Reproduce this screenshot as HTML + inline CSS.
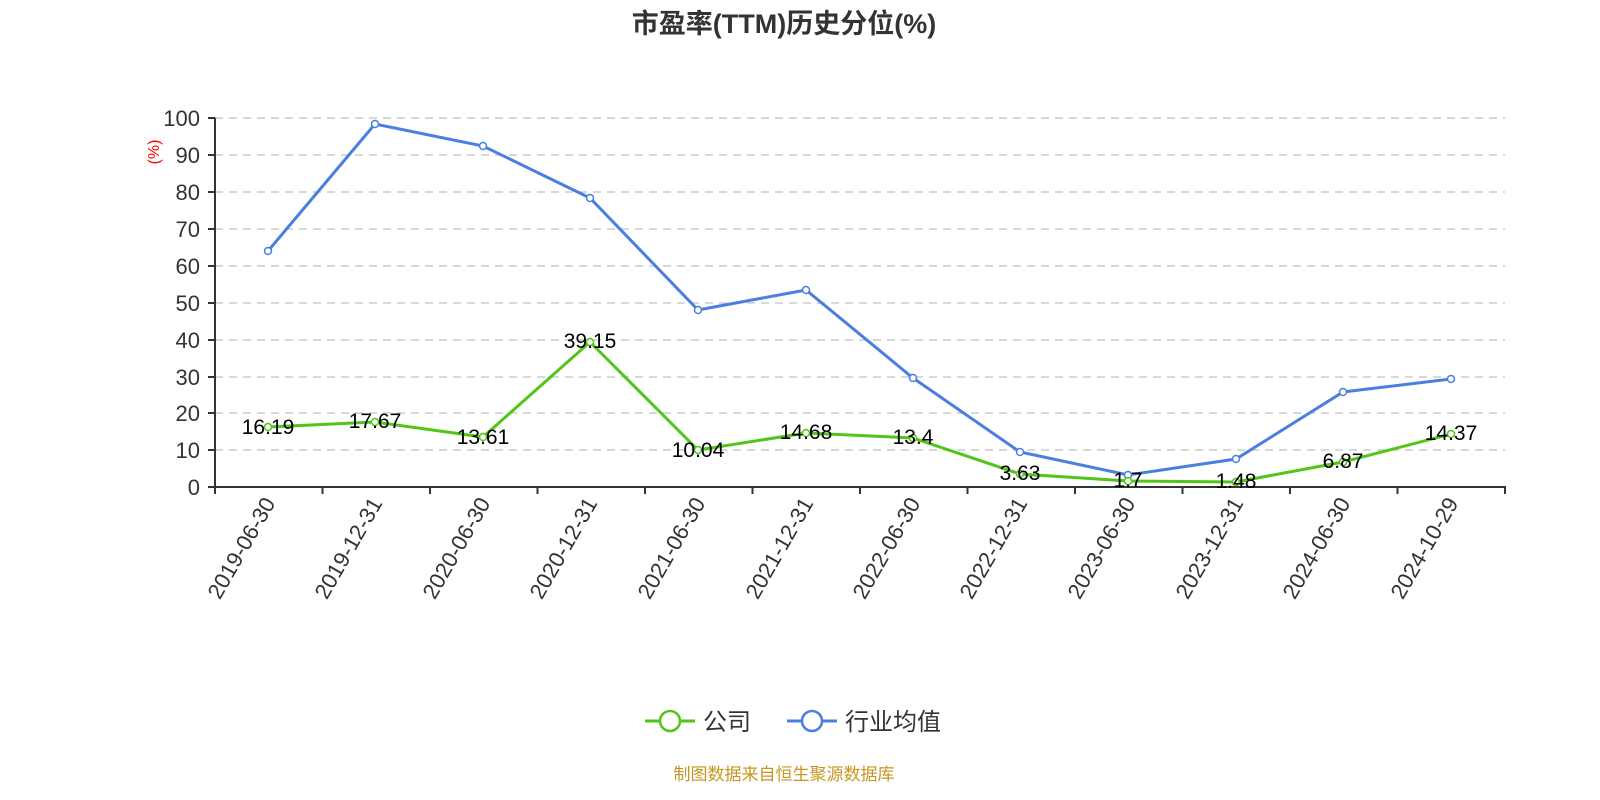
<!DOCTYPE html>
<html><head><meta charset="utf-8"><style>
body{margin:0;background:#fff;}
svg{display:block;font-family:"Liberation Sans","Noto Sans CJK SC",sans-serif;}
</style></head><body>
<svg width="1600" height="800" viewBox="0 0 1600 800">
<text x="784" y="33" text-anchor="middle" font-size="27" font-weight="bold" fill="#333">市盈率(TTM)历史分位(%)</text>
<g stroke="#ccc" stroke-width="1.5" stroke-dasharray="8,6">
<line x1="215" x2="1505" y1="118" y2="118"/><line x1="215" x2="1505" y1="155" y2="155"/>
<line x1="215" x2="1505" y1="192" y2="192"/><line x1="215" x2="1505" y1="229" y2="229"/>
<line x1="215" x2="1505" y1="266" y2="266"/><line x1="215" x2="1505" y1="303" y2="303"/>
<line x1="215" x2="1505" y1="340" y2="340"/><line x1="215" x2="1505" y1="377" y2="377"/>
<line x1="215" x2="1505" y1="413" y2="413"/><line x1="215" x2="1505" y1="450" y2="450"/>
</g>
<g stroke="#333" stroke-width="2">
<line x1="215" x2="215" y1="118" y2="487"/>
<line x1="215" x2="1506" y1="487" y2="487"/>
<line x1="208" x2="215" y1="118" y2="118"/><line x1="208" x2="215" y1="155" y2="155"/><line x1="208" x2="215" y1="192" y2="192"/><line x1="208" x2="215" y1="229" y2="229"/><line x1="208" x2="215" y1="266" y2="266"/><line x1="208" x2="215" y1="303" y2="303"/><line x1="208" x2="215" y1="340" y2="340"/><line x1="208" x2="215" y1="377" y2="377"/><line x1="208" x2="215" y1="413" y2="413"/><line x1="208" x2="215" y1="450" y2="450"/><line x1="208" x2="215" y1="487" y2="487"/>
<line x1="215" x2="215" y1="487" y2="494"/><line x1="322.5" x2="322.5" y1="487" y2="494"/><line x1="430" x2="430" y1="487" y2="494"/><line x1="537.5" x2="537.5" y1="487" y2="494"/><line x1="645" x2="645" y1="487" y2="494"/><line x1="752.5" x2="752.5" y1="487" y2="494"/><line x1="860" x2="860" y1="487" y2="494"/><line x1="967.5" x2="967.5" y1="487" y2="494"/><line x1="1075" x2="1075" y1="487" y2="494"/><line x1="1182.5" x2="1182.5" y1="487" y2="494"/><line x1="1290" x2="1290" y1="487" y2="494"/><line x1="1397.5" x2="1397.5" y1="487" y2="494"/><line x1="1505" x2="1505" y1="487" y2="494"/>
</g>
<g font-size="22" fill="#333" text-anchor="end">
<text x="200" y="126">100</text><text x="200" y="163">90</text><text x="200" y="200">80</text><text x="200" y="237">70</text><text x="200" y="274">60</text><text x="200" y="311">50</text><text x="200" y="348">40</text><text x="200" y="385">30</text><text x="200" y="421">20</text><text x="200" y="458">10</text><text x="200" y="495">0</text>
</g>
<text transform="translate(159,152) rotate(-90)" font-size="16" fill="red" text-anchor="middle">(%)</text>
<g font-size="22" fill="#333" text-anchor="end">
<text transform="translate(276,503) rotate(-60)">2019-06-30</text>
<text transform="translate(383,503) rotate(-60)">2019-12-31</text>
<text transform="translate(491,503) rotate(-60)">2020-06-30</text>
<text transform="translate(598,503) rotate(-60)">2020-12-31</text>
<text transform="translate(706,503) rotate(-60)">2021-06-30</text>
<text transform="translate(814,503) rotate(-60)">2021-12-31</text>
<text transform="translate(921,503) rotate(-60)">2022-06-30</text>
<text transform="translate(1028,503) rotate(-60)">2022-12-31</text>
<text transform="translate(1136,503) rotate(-60)">2023-06-30</text>
<text transform="translate(1244,503) rotate(-60)">2023-12-31</text>
<text transform="translate(1351,503) rotate(-60)">2024-06-30</text>
<text transform="translate(1459,503) rotate(-60)">2024-10-29</text>
</g>
<polyline fill="none" stroke="#4a7fe0" stroke-width="3" points="268,251 375,124 483,146 590,198 698,310 806,290 913,378 1020,452 1128,475 1236,459 1343,392 1451,379"/>
<g fill="#fff" stroke="#4a7fe0" stroke-width="1.5">
<circle cx="268" cy="251" r="3.5"/><circle cx="375" cy="124" r="3.5"/><circle cx="483" cy="146" r="3.5"/><circle cx="590" cy="198" r="3.5"/><circle cx="698" cy="310" r="3.5"/><circle cx="806" cy="290" r="3.5"/><circle cx="913" cy="378" r="3.5"/><circle cx="1020" cy="452" r="3.5"/><circle cx="1128" cy="475" r="3.5"/><circle cx="1236" cy="459" r="3.5"/><circle cx="1343" cy="392" r="3.5"/><circle cx="1451" cy="379" r="3.5"/>
</g>
<polyline fill="none" stroke="#52c41a" stroke-width="3" points="268,427 375,422 483,437 590,342 698,450 806,433 913,438 1020,474 1128,481 1236,482 1343,462 1451,434"/>
<g fill="#fff" stroke="#52c41a" stroke-width="1.5">
<circle cx="268" cy="427" r="3.5"/><circle cx="375" cy="422" r="3.5"/><circle cx="483" cy="437" r="3.5"/><circle cx="590" cy="342" r="3.5"/><circle cx="698" cy="450" r="3.5"/><circle cx="806" cy="433" r="3.5"/><circle cx="913" cy="438" r="3.5"/><circle cx="1020" cy="474" r="3.5"/><circle cx="1128" cy="481" r="3.5"/><circle cx="1236" cy="482" r="3.5"/><circle cx="1343" cy="462" r="3.5"/><circle cx="1451" cy="434" r="3.5"/>
</g>
<g font-size="21" fill="#000" text-anchor="middle">
<text x="268" y="434">16.19</text><text x="375" y="428">17.67</text><text x="483" y="444">13.61</text><text x="590" y="348">39.15</text><text x="698" y="457">10.04</text><text x="806" y="439">14.68</text><text x="913" y="444">13.4</text><text x="1020" y="480">3.63</text><text x="1128" y="487">1.7</text><text x="1236" y="488">1.48</text><text x="1343" y="468">6.87</text><text x="1451" y="440">14.37</text>
</g>
<line x1="645" x2="695" y1="721" y2="721" stroke="#52c41a" stroke-width="3"/>
<circle cx="670" cy="721" r="10" fill="#fff" stroke="#52c41a" stroke-width="2.5"/>
<text x="703" y="730" font-size="24" fill="#333">公司</text>
<line x1="787" x2="837" y1="721" y2="721" stroke="#4a7fe0" stroke-width="3"/>
<circle cx="812" cy="721" r="10" fill="#fff" stroke="#4a7fe0" stroke-width="2.5"/>
<text x="845" y="730" font-size="24" fill="#333">行业均值</text>
<text x="784" y="780" font-size="17" fill="#c8961e" text-anchor="middle">制图数据来自恒生聚源数据库</text>
</svg>
</body></html>
